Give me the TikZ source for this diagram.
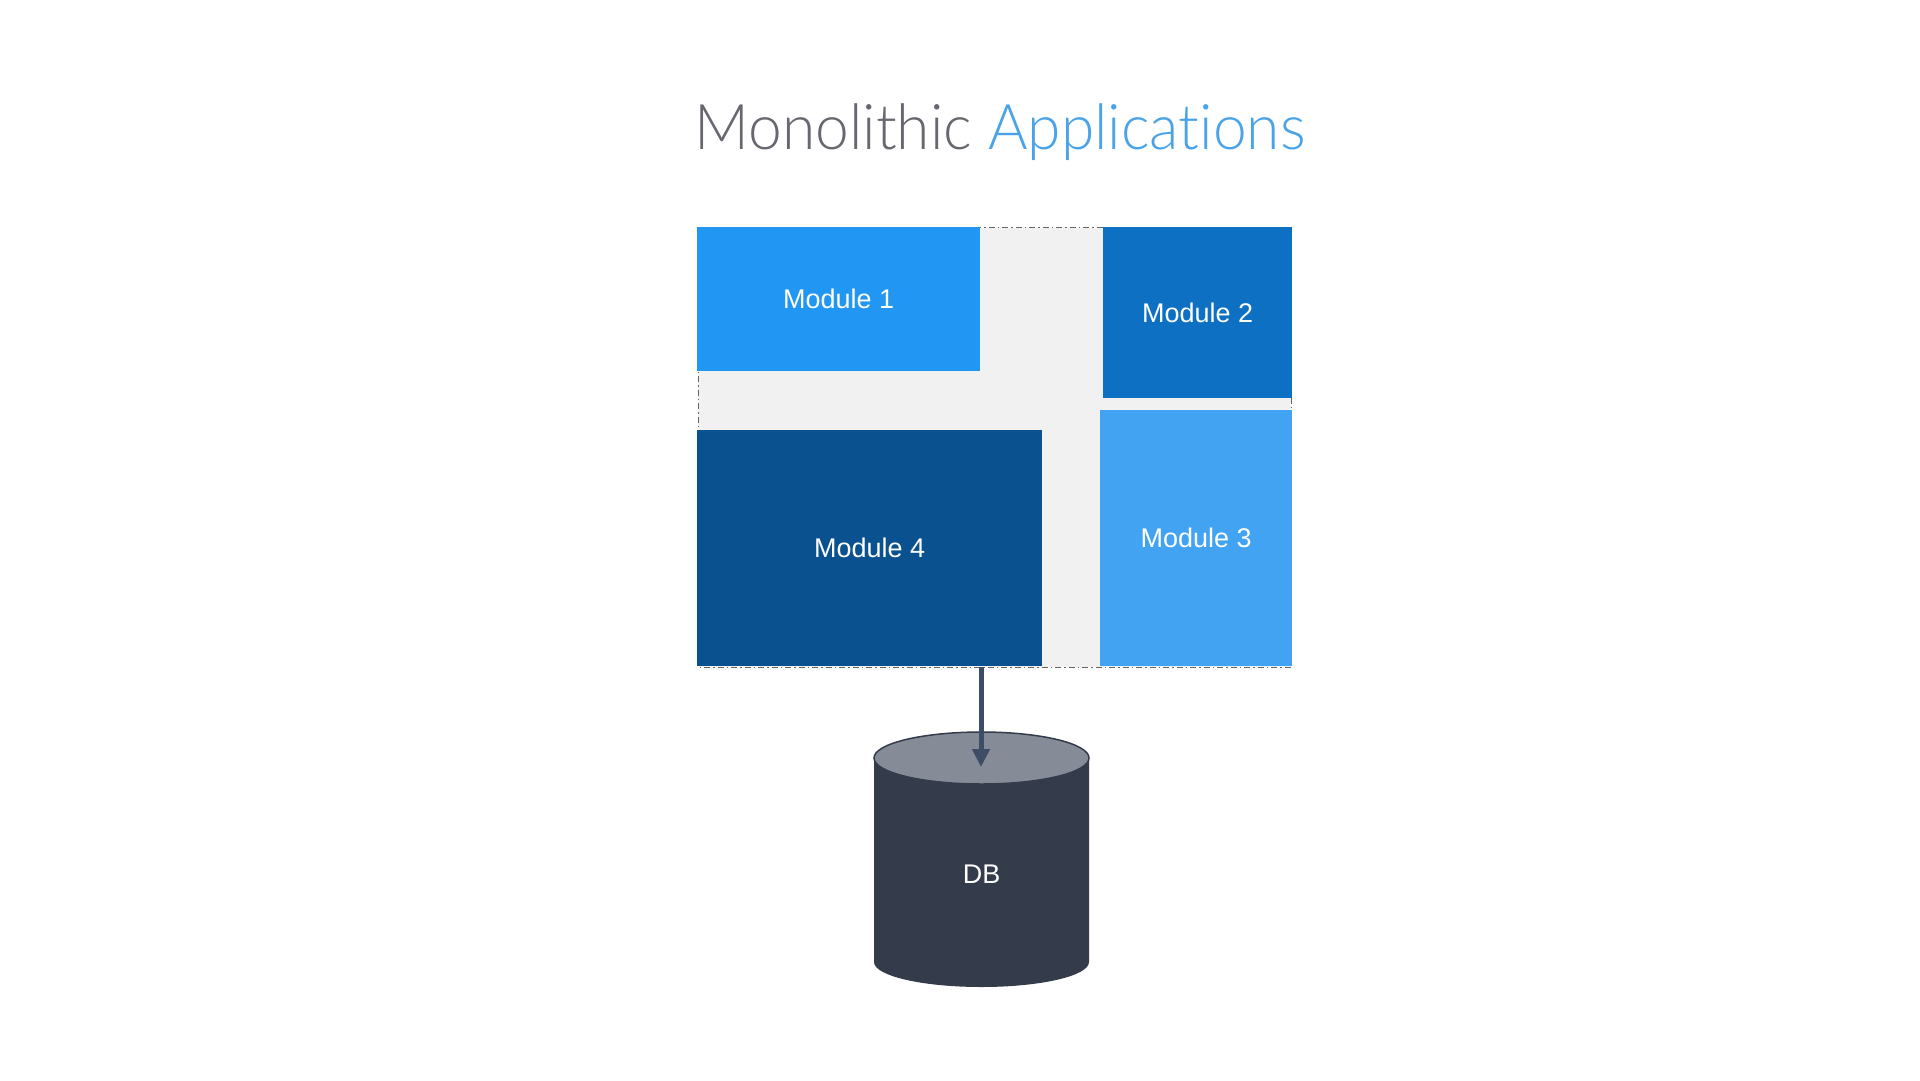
\documentclass[tikz,border=0pt]{standalone}
\usepackage{fontspec}
\setmainfont{Liberation Sans}
\IfFontExistsTF{Lato Light}{\newfontfamily\titlefont{Lato Light}[Ligatures=NoCommon]}{\newfontfamily\titlefont{Lato}[Ligatures=NoCommon]}
\usetikzlibrary{arrows.meta}
\definecolor{titlegray}{HTML}{66676F}
\definecolor{titleblue}{HTML}{4AA3E8}
\definecolor{mone}{HTML}{2196F3}
\definecolor{mtwo}{HTML}{0E70C3}
\definecolor{mthree}{HTML}{42A3F3}
\definecolor{mfour}{HTML}{09518F}
\definecolor{bggray}{HTML}{F1F1F2}
\definecolor{dbbody}{HTML}{343C4C}
\definecolor{dbtop}{HTML}{868B98}
\definecolor{arrowc}{HTML}{3E4C66}
\tikzset{
  module/.style={rectangle, inner sep=0pt, anchor=north west, text=white, font=\fontsize{27}{32}\selectfont},
  frame/.style={draw=black!60, line width=1pt, dash pattern=on 6pt off 3pt on 1.5pt off 3pt, fill=bggray},
  link/.style={draw=arrowc, line width=5pt, -{Triangle[length=18pt,width=17pt]}},
}
\begin{document}
\begin{tikzpicture}[x=1pt,y=-1pt]
\useasboundingbox[fill=white] (0,0) rectangle (1920,1080);
% title
\node[anchor=base, inner sep=0pt, font=\titlefont\fontsize{63}{68}\selectfont] (title) at (1000,149)
  {\scalebox{0.96}[1]{\textcolor{titlegray}{Monolithic} \textcolor{titleblue}{Applications}}};
% frame
\path[frame] (698,227.5) rectangle (1291,667);
% modules
\node[module, fill=mone, minimum width=283pt, minimum height=144pt] (m1) at (697,227) {Module 1};
\node[module, fill=mtwo, minimum width=189pt, minimum height=171pt] (m2) at (1103,227) {Module 2};
\node[module, fill=mthree, minimum width=192pt, minimum height=256pt] (m3) at (1100,410) {Module 3};
\node[module, fill=mfour, minimum width=345pt, minimum height=236pt] (m4) at (697,430) {Module 4};
% database
\fill[dbbody] (874,758) -- (874,962) arc[start angle=180, end angle=360, x radius=107.5pt, y radius=25pt] -- (1089,758) -- cycle;
\draw[fill=dbtop, draw=dbbody, line width=1.5pt] (981.5,758) ellipse [x radius=107.5pt, y radius=26pt];
\node[text=white, font=\fontsize{27}{32}\selectfont, inner sep=0pt] (db) at (981.5,874) {DB};
% connector
\coordinate (src) at (981,667);
\coordinate (dst) at (981,767);
\draw[link] (src) -- (dst);
\end{tikzpicture}
\end{document}
